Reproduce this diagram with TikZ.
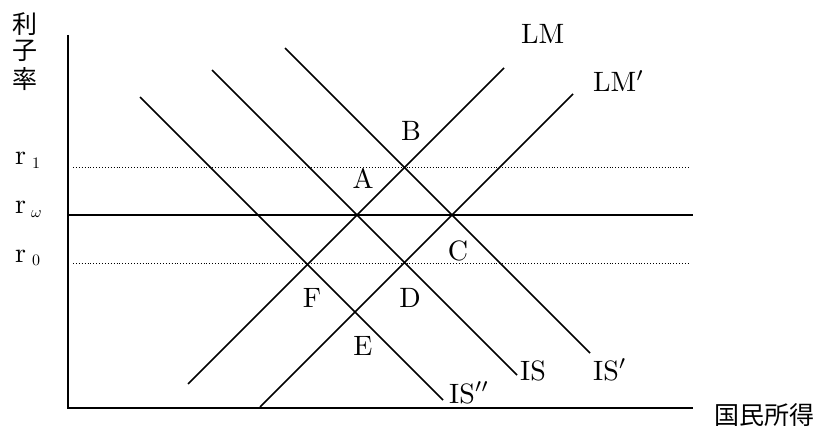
\documentclass[tikz,border=0pt]{standalone}
\usepackage{graphicx}
\usepackage{fontspec}
\newfontfamily\cjk{Noto Sans CJK JP}
\newcommand\bigtx[1]{\scalebox{2.8}{#1}}
\newcommand\subtx[1]{\scalebox{1.6}{#1}}
\begin{document}
\begin{tikzpicture}[x=1pt,y=-1pt,
  curve/.style={line width=1.5pt},
  axis/.style={line width=1.7pt},
  guide/.style={line width=0.9pt,dotted},
  lab/.style={inner sep=0pt,font=\fontsize{10}{12}\selectfont},
  cj/.style={inner sep=0pt,font=\cjk\fontsize{25}{29}\selectfont}]
\useasboundingbox (0,0) rectangle (826,430);
% axes
\coordinate (ytop) at (68,35);
\coordinate (orig) at (68,408);
\coordinate (xend) at (693,408);
\draw[axis] (ytop) -- (orig) -- (xend);
% horizontal lines
\coordinate (rw0) at (68,215); \coordinate (rw1) at (693,215);
\draw[curve] (rw0) -- (rw1);
\coordinate (r10) at (73,167); \coordinate (r11) at (690,167);
\coordinate (r00) at (73,263); \coordinate (r01) at (690,263);
\draw[guide] (r10) -- (r11);
\draw[guide] (r00) -- (r01);
% LM curves
\coordinate (lma) at (188,384); \coordinate (lmb) at (504,68);
\coordinate (lmpa) at (260,407); \coordinate (lmpb) at (573,94);
\draw[curve] (lma) -- (lmb);
\draw[curve] (lmpa) -- (lmpb);
% IS curves
\coordinate (isa) at (212,70); \coordinate (isb) at (517,375);
\coordinate (ispa) at (285,48); \coordinate (ispb) at (590,353);
\coordinate (isppa) at (140,97); \coordinate (isppb) at (443,400);
\draw[curve] (isa) -- (isb);
\draw[curve] (ispa) -- (ispb);
\draw[curve] (isppa) -- (isppb);
% labels
\node[lab,anchor=base west] (LM) at (521,44) {\bigtx{LM}};
\node[lab,anchor=base west] (LMp) at (593,92) {\bigtx{LM$'$}};
\node[lab,anchor=base west] (IS) at (520,380) {\bigtx{IS}};
\node[lab,anchor=base west] (ISp) at (593,380) {\bigtx{IS$'$}};
\node[lab,anchor=base west] (ISpp) at (449,403) {\bigtx{IS$''$}};
\node[lab] (A) at (363,178) {\bigtx{A}};
\node[lab] (B) at (411,131) {\bigtx{B}};
\node[lab] (C) at (458,251) {\bigtx{C}};
\node[lab] (D) at (410,298) {\bigtx{D}};
\node[lab] (E) at (363,346) {\bigtx{E}};
\node[lab] (F) at (312,298) {\bigtx{F}};
\node[lab,anchor=base west] (r1) at (15,165) {\bigtx{r}\hspace{6pt}\raisebox{-4pt}{\subtx{1}}};
\node[lab,anchor=base west] (rw) at (15,214) {\bigtx{r}\hspace{5pt}\raisebox{-3pt}{\subtx{$\omega$}}};
\node[lab,anchor=base west] (r0) at (15,262) {\bigtx{r}\hspace{6pt}\raisebox{-3pt}{\subtx{0}}};
\node[cj] (k1) at (25,24) {利};
\node[cj] (k2) at (25,51) {子};
\node[cj] (k3) at (25,79) {率};
\node[cj,anchor=west] (gm) at (714,415) {国民所得};
\end{tikzpicture}
\end{document}
